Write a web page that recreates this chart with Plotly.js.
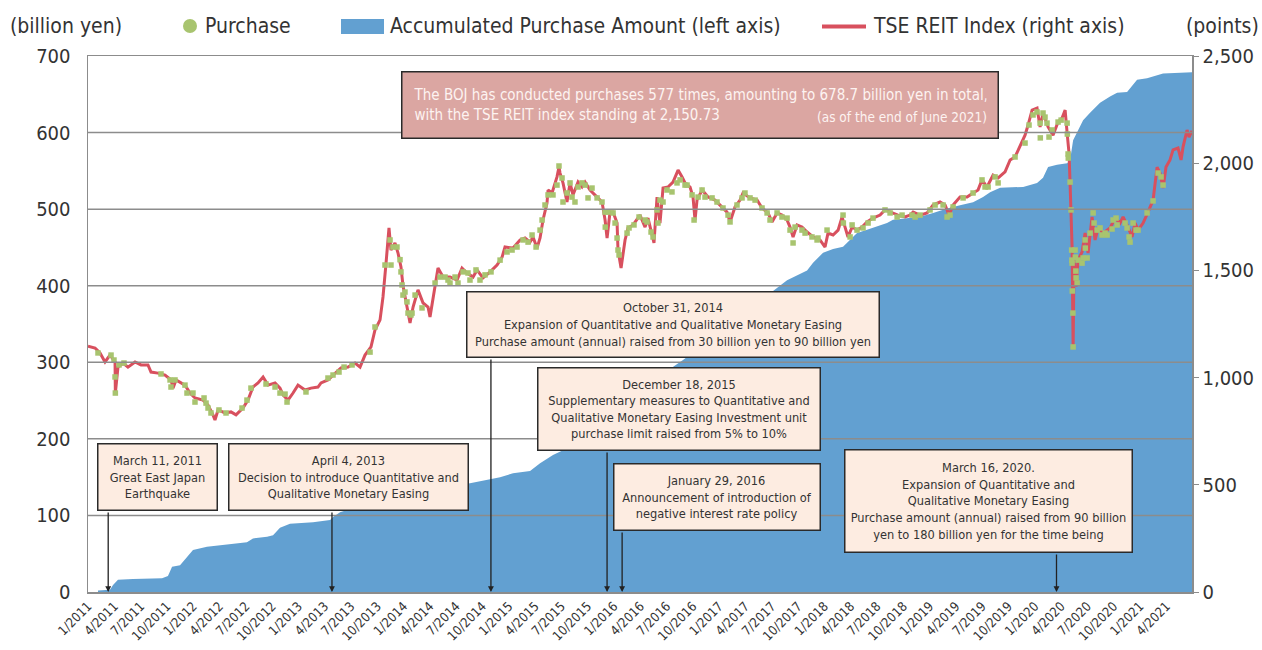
<!DOCTYPE html>
<html>
<head>
<meta charset="utf-8">
<script src="https://cdn.plot.ly/plotly-3.0.1.min.js"></script>
<style>html,body{margin:0;padding:0;background:#fff;}#chart{width:1262px;height:650px;}</style>
</head>
<body>
<div id="chart"></div>
<script>
// ---------- DATA (time as decimal year) ----------
// TSE REIT Index (points, right axis)
const reitT = [
 2011.000,2011.067,2011.114,2011.162,2011.209,2011.257,2011.260,2011.285,2011.333,2011.380,2011.447,2011.504,2011.570,2011.599,2011.665,2011.732,2011.789,2011.808,2011.837,2011.922,2011.970,
 2012.017,2012.093,2012.141,2012.188,2012.207,2012.236,2012.302,2012.359,2012.407,2012.473,2012.521,2012.568,2012.616,2012.664,2012.711,2012.778,2012.825,2012.854,2012.901,2012.949,2012.996,
 2013.063,2013.120,2013.186,2013.215,2013.281,2013.348,2013.405,2013.472,2013.538,2013.586,2013.633,2013.690,2013.728,2013.776,2013.804,2013.833,2013.861,2013.880,2013.918,2013.947,2013.975,2013.994,
 2014.023,2014.061,2014.090,2014.137,2014.185,2014.232,2014.251,2014.299,2014.327,2014.375,2014.441,2014.508,2014.555,2014.603,2014.660,2014.698,2014.755,2014.822,2014.888,2014.936,2014.964,
 2015.040,2015.107,2015.154,2015.202,2015.230,2015.268,2015.297,2015.325,2015.363,2015.373,2015.411,2015.458,2015.477,2015.487,2015.515,2015.553,2015.582,2015.610,2015.658,2015.696,2015.725,2015.772,2015.839,2015.886,2015.915,2015.934,2015.962,2015.991,
 2016.029,2016.038,2016.067,2016.105,2016.133,2016.181,2016.247,2016.295,2016.323,2016.361,2016.380,2016.409,2016.437,2016.466,2016.513,2016.561,2016.609,2016.647,2016.675,2016.723,2016.751,2016.770,2016.789,2016.837,2016.894,2016.960,
 2017.027,2017.074,2017.103,2017.150,2017.198,2017.226,2017.293,2017.360,2017.407,2017.464,2017.502,2017.550,2017.597,2017.645,2017.673,2017.702,2017.740,2017.787,2017.835,2017.892,2017.958,
 2018.006,2018.034,2018.082,2018.130,2018.168,2018.196,2018.224,2018.263,2018.310,2018.358,2018.405,2018.462,2018.529,2018.576,2018.643,2018.700,2018.767,2018.814,2018.843,2018.909,2018.976,
 2019.033,2019.099,2019.147,2019.185,2019.223,2019.289,2019.356,2019.413,2019.460,2019.498,2019.546,2019.603,2019.651,2019.717,2019.765,2019.812,2019.860,2019.907,2019.936,2019.974,
 2020.021,2020.050,2020.078,2020.126,2020.173,2020.221,2020.259,2020.288,2020.307,2020.325,2020.335,2020.344,2020.354,2020.364,2020.373,2020.392,2020.411,2020.449,2020.478,2020.506,2020.544,2020.573,2020.601,2020.649,2020.715,2020.763,2020.810,2020.839,2020.886,2020.924,2020.953,2020.981,
 2021.029,2021.076,2021.124,2021.162,2021.190,2021.219,2021.247,2021.285,2021.314,2021.361,2021.390,2021.409,2021.447,2021.466,2021.494
];
const reitV = [
 1147,1138,1115,1073,1105,1073,928,1049,1068,1049,1073,1059,1059,1026,1021,1012,989,951,989,965,928,
 905,895,872,826,802,849,835,840,826,858,895,956,975,1003,965,975,951,919,895,928,965,
 942,951,956,975,989,1021,1045,1049,1068,1049,1105,1143,1222,1269,1376,1534,1698,1595,1628,1581,1516,1430,
 1348,1255,1329,1409,1348,1329,1283,1423,1511,1469,1469,1455,1511,1488,1469,1502,1465,1493,1525,1562,1609,
 1604,1642,1651,1632,1656,1604,1651,1735,1814,1875,1861,1936,1982,1954,1908,1819,1908,1852,1912,1889,1912,1875,1842,1819,1735,1651,1772,1772,
 1721,1595,1511,1642,1698,1712,1758,1702,1744,1674,1628,1842,1721,1884,1889,1912,1968,1936,1908,1889,1842,1735,1828,1875,1842,1828,
 1796,1772,1726,1796,1828,1861,1838,1828,1791,1768,1726,1768,1758,1735,1702,1656,1712,1702,1679,1656,1642,
 1609,1674,1665,1688,1749,1702,1656,1702,1688,1702,1726,1744,1758,1782,1768,1758,1749,1758,1772,1758,1768,
 1805,1819,1805,1758,1805,1842,1842,1861,1875,1922,1889,1945,1931,1960,2015,2029,2085,2131,2178,2248,
 2257,2169,2234,2169,2131,2192,2211,2248,2141,2047,1908,1782,1609,1143,1548,1423,1548,1586,1674,1581,1749,1642,1698,1674,1698,1744,1721,1749,1702,1656,1721,1688,
 1721,1772,1828,1982,1954,1884,1982,2015,2062,2071,2015,2076,2155,2122,2151
];

// Purchase days (index level on the day, right axis)
const buyT = [
 2011.095,2011.219,2011.247,2011.257,2011.260,2011.295,2011.342,2011.694,2011.780,2011.789,2011.827,2011.922,2011.941,2011.998,
 2012.017,2012.103,2012.122,2012.141,2012.169,2012.245,2012.312,2012.464,2012.511,2012.549,2012.692,2012.778,2012.825,2012.873,2012.892,
 2013.072,2013.281,2013.329,2013.386,2013.434,2013.510,2013.681,2013.728,2013.823,2013.871,2013.880,2013.899,2013.937,2013.966,2013.975,2013.985,2013.994,
 2014.013,2014.032,2014.042,2014.070,2014.080,2014.109,2014.175,2014.299,2014.346,2014.394,2014.422,2014.441,2014.489,2014.517,2014.565,2014.612,2014.631,2014.688,2014.726,2014.774,2014.831,2014.917,2014.983,
 2015.031,2015.078,2015.135,2015.183,2015.221,2015.259,2015.297,2015.316,2015.344,2015.373,2015.420,2015.458,2015.477,2015.506,2015.515,2015.553,2015.582,2015.601,2015.629,2015.658,2015.696,2015.725,2015.753,2015.791,2015.839,2015.886,2015.915,2015.917,2015.943,2015.991,
 2016.010,2016.029,2016.038,2016.048,2016.124,2016.143,2016.190,2016.238,2016.295,2016.314,2016.352,2016.371,2016.409,2016.418,2016.437,2016.466,2016.504,2016.551,2016.599,2016.628,2016.675,2016.694,2016.742,2016.761,2016.799,2016.837,2016.865,2016.932,2016.979,
 2017.036,2017.084,2017.103,2017.169,2017.217,2017.245,2017.293,2017.341,2017.407,2017.455,2017.483,2017.550,2017.597,2017.645,2017.673,2017.702,2017.721,2017.787,2017.816,2017.882,2017.930,2017.939,
 2018.025,2018.177,2018.180,2018.244,2018.263,2018.310,2018.367,2018.415,2018.462,2018.576,2018.624,2018.691,2018.738,2018.833,2018.862,2018.909,
 2019.004,2019.052,2019.128,2019.166,2019.194,2019.223,2019.318,2019.413,2019.498,2019.527,2019.556,2019.622,2019.651,2019.812,2019.907,2019.945,2019.983,
 2020.021,2020.050,2020.052,2020.078,2020.097,2020.116,2020.135,2020.164,2020.221,2020.250,2020.307,2020.309,2020.316,2020.318,2020.335,2020.344,2020.350,2020.352,2020.354,2020.356,2020.362,2020.364,2020.383,2020.385,2020.390,2020.392,2020.402,2020.411,2020.449,2020.459,2020.478,2020.480,2020.497,2020.525,2020.554,2020.563,2020.592,2020.620,2020.639,2020.668,2020.687,2020.734,2020.744,2020.772,2020.782,2020.858,2020.877,2020.896,2020.905,2020.934,2020.962,2020.981,
 2021.067,2021.124,2021.172,2021.200,2021.219
];
const buyV = [
 1115,1105,1082,1003,928,1059,1068,1017,989,956,989,965,928,928,
 886,905,881,858,835,849,835,858,895,951,970,956,928,923,886,
 933,998,1012,1026,1049,1059,1119,1236,1525,1642,1525,1609,1609,1550,1493,1432,1385,
 1399,1353,1301,1292,1301,1385,1325,1441,1469,1469,1455,1441,1469,1441,1493,1488,1455,1502,1455,1479,1493,1548,1586,
 1595,1609,1642,1632,1665,1609,1688,1735,1805,1852,1852,1898,1987,1931,1819,1861,1908,1842,1819,1889,1908,1898,1838,1884,1838,1819,1772,1702,1772,1768,
 1721,1651,1595,1572,1674,1698,1712,1749,1735,1726,1679,1656,1782,1721,1828,1819,1875,1866,1908,1922,1898,1898,1852,1735,1842,1875,1842,1838,1819,
 1791,1758,1726,1805,1838,1861,1838,1828,1791,1768,1735,1768,1749,1744,1688,1628,1702,1688,1674,1656,1642,1651,
 1688,1758,1721,1656,1712,1688,1698,1721,1744,1782,1768,1749,1758,1758,1749,1758,
 1782,1805,1805,1749,1758,1796,1838,1861,1922,1889,1889,1936,1908,2029,2094,2178,2225,
 2239,2187,2118,2234,2215,2187,2122,2155,2192,2201,2187,2136,2043,2024,1912,1782,1595,1548,1534,1404,1301,1143,1595,1562,1497,1465,1441,1548,1534,1558,1642,1604,1558,1674,1768,1721,1688,1698,1665,1674,1665,1693,1735,1744,1712,1721,1698,1656,1632,1721,1688,1688,
 1768,1824,1954,1936,1898
];

// Accumulated purchase amount (billion yen, left axis)
const accT = [
 2011.095,2011.209,2011.238,2011.285,2011.428,2011.704,2011.760,2011.799,2011.875,2011.941,2011.998,
 2012.131,2012.255,2012.416,2012.511,2012.568,2012.702,2012.759,2012.825,2012.920,
 2013.139,2013.301,2013.329,2013.396,2013.462,2013.519,2013.776,
 2014.090,2014.413,2014.631,2014.917,
 2015.040,2015.202,2015.297,2015.420,2015.515,2015.800,
 2016.200,2016.656,
 2017.103,2017.645,2017.835,2017.892,2017.987,
 2018.082,2018.177,2018.224,2018.310,2018.405,2018.500,2018.595,2018.652,2018.786,2018.909,
 2019.033,2019.166,2019.289,2019.413,2019.508,2019.575,2019.670,2019.889,
 2020.021,2020.078,2020.126,2020.211,2020.307,2020.335,2020.364,2020.402,2020.459,2020.525,2020.620,2020.715,2020.782,2020.877,2020.972,
 2021.067,2021.219,2021.494
];
const accV = [
 2,3,9,16,17,18,21,33,35,46,55,
 59,61,64,65,70,72,74,84,89,
 91,94,98,104,107,111,120,
 129,136,142,150,
 155,158,168,179,185,212,
 260,303,
 350,407,420,430,443,
 448,451,457,469,473,477,482,486,488,490,
 495,501,505,509,516,522,528,529,
 534,541,555,558,560,564,590,601,616,626,639,647,652,653,669,
 671,677,678.7
];

// Axis tick labels
const xTickLabels = ["1/2011","4/2011","7/2011","10/2011","1/2012","4/2012","7/2012","10/2012","1/2013","4/2013","7/2013","10/2013",
 "1/2014","4/2014","7/2014","10/2014","1/2015","4/2015","7/2015","10/2015","1/2016","4/2016","7/2016","10/2016",
 "1/2017","4/2017","7/2017","10/2017","1/2018","4/2018","7/2018","10/2018","1/2019","4/2019","7/2019","10/2019",
 "1/2020","4/2020","7/2020","10/2020","1/2021","4/2021"];
const leftTicks = [0,100,200,300,400,500,600,700];
const rightTicks = [0,500,1000,1500,2000,2500];

// Events (decimal year as placed in the picture) and their callout texts
const eventT = [2011.192, 2013.319, 2014.830, 2015.934, 2016.077, 2020.206];
const eventTexts = [
 "March 11, 2011<br>Great East Japan<br>Earthquake",
 "April 4, 2013<br>Decision to introduce Quantitative and<br>Qualitative Monetary Easing",
 "October 31, 2014<br>Expansion of Quantitative and Qualitative Monetary Easing<br>Purchase amount (annual) raised from 30 billion yen to 90 billion yen",
 "December 18, 2015<br>Supplementary measures to Quantitative and<br>Qualitative Monetary Easing Investment unit<br>purchase limit raised from 5% to 10%",
 "January 29, 2016<br>Announcement of introduction of<br>negative interest rate policy",
 "March 16, 2020.<br>Expansion of Quantitative and<br>Qualitative Monetary Easing<br>Purchase amount (annual) raised from 90 billion<br>yen to 180 billion yen for the time being"
];
const summaryText = "The BOJ has conducted purchases 577 times, amounting to 678.7 billion yen in total,<br>with the TSE REIT index standing at 2,150.73";
const summaryNote = "(as of the end of June 2021)";

if (reitT.length !== reitV.length || buyT.length !== buyV.length || accT.length !== accV.length) {
  throw new Error("length mismatch " + [reitT.length, reitV.length, buyT.length, buyV.length, accT.length, accV.length]);
}

// ---------- LAYOUT HELPERS ----------
const W = 1262, H = 650;
const M = {l: 88, r: 70, t: 56, b: 58};
const PW = W - M.l - M.r, PH = H - M.t - M.b;
const px = x => (x - M.l) / PW;        // pixel x -> paper
const py = y => (H - M.b - y) / PH;    // pixel y -> paper
const FONT = "'Liberation Sans Narrow','DejaVu Sans Condensed','Arial Narrow',sans-serif";
const TXT = '#333333';
const GRID = '#8c8c8c';
const BLUE = '#62a0d1';
const RED = '#d8505e';
const GREEN = '#a8c46f';
const XMIN = 2011.0, XMAX = 2021.494;

const xTickVals = xTickLabels.map(s => { const [m, y] = s.split('/').map(Number); return y + (m - 1) / 12; });

const traces = [
  {x: accT, y: accV, type: 'scatter', mode: 'lines', line: {shape: 'linear', width: 0, color: BLUE},
   fill: 'tozeroy', fillcolor: BLUE, yaxis: 'y', name: 'Accumulated Purchase Amount (left axis)', showlegend: false, hoverinfo: 'skip'},
  {x: reitT, y: reitV, type: 'scatter', mode: 'lines', line: {width: 3, color: RED},
   yaxis: 'y2', name: 'TSE REIT Index (right axis)', showlegend: false, hoverinfo: 'skip'},
  {x: buyT, y: buyV, type: 'scatter', mode: 'markers', marker: {symbol: 'square', size: 5.5, color: GREEN},
   yaxis: 'y2', name: 'Purchase', showlegend: false, hoverinfo: 'skip'}
];

// gridlines drawn above the blue area
const shapes = leftTicks.filter(v => v > 0 && v < 700).map(v => ({
  type: 'line', xref: 'paper', yref: 'y', x0: 0, x1: 1, y0: v, y1: v, layer: 'above',
  line: {color: GRID, width: 1.5}
}));
// manual legend symbols
shapes.push({type: 'circle', xref: 'paper', yref: 'paper', x0: px(183), x1: px(197), y0: py(33), y1: py(19),
  fillcolor: GREEN, line: {width: 0}});
shapes.push({type: 'rect', xref: 'paper', yref: 'paper', x0: px(341), x1: px(384), y0: py(34), y1: py(19),
  fillcolor: BLUE, line: {width: 0}});
shapes.push({type: 'line', xref: 'paper', yref: 'paper', x0: px(822), x1: px(866), y0: py(26.5), y1: py(26.5),
  line: {color: RED, width: 4}});

const annotations = [];
const legendText = (x, text, anchor) => ({xref: 'paper', yref: 'paper', x: px(x), y: py(26), xanchor: anchor || 'left', yanchor: 'middle',
  text: text, showarrow: false, font: {family: FONT, size: 21, color: TXT}});
annotations.push(legendText(8, '(billion yen)'));
annotations.push(legendText(203, 'Purchase'));
annotations.push(legendText(388, 'Accumulated Purchase Amount (left axis)'));
annotations.push(legendText(871, 'TSE REIT Index (right axis)'));
annotations.push(legendText(1261, '(points)', 'right'));

// callout boxes (pixel geometry: left, right, top, bottom)
const boxes = [
  [97, 218, 443, 511],
  [228, 469, 443, 511],
  [466, 880, 291, 358],
  [537, 821, 367, 451],
  [613, 821, 463, 531],
  [844, 1133, 449, 553]
];
const BW = 1.5, BP = 3;
boxes.forEach((b, i) => {
  // arrow from box bottom down to the event date on the axis
  annotations.push({xref: 'x', yref: 'y', x: eventT[i], y: 0, axref: 'pixel', ayref: 'pixel', ax: 0, ay: -(H - M.b - b[3]),
    text: '', showarrow: true, arrowhead: 2, arrowsize: 0.9, arrowwidth: 1.3, arrowcolor: '#222', standoff: 0, startstandoff: 0});
});
boxes.forEach((b, i) => {
  annotations.push({xref: 'paper', yref: 'paper', x: px((b[0] + b[1]) / 2), y: py((b[2] + b[3]) / 2),
    xanchor: 'center', yanchor: 'middle', text: eventTexts[i], showarrow: false, align: 'center',
    width: b[1] - b[0] - 2 * (BW + BP), height: b[3] - b[2] - 2 * (BW + BP),
    bgcolor: '#fdece1', bordercolor: '#2a2a2a', borderwidth: BW, borderpad: BP,
    font: {family: FONT, size: 12.7, color: TXT}});
});
// summary box
annotations.push({xref: 'paper', yref: 'paper', x: px(700), y: py(105), xanchor: 'center', yanchor: 'middle',
  text: summaryText, showarrow: false, align: 'left', valign: 'middle',
  width: 598 - 2 * (BW + BP) - 16, height: 68 - 2 * (BW + BP) - 16,
  bgcolor: '#dba6a2', bordercolor: '#2a2a2a', borderwidth: BW, borderpad: BP + 8,
  font: {family: FONT, size: 15, color: '#fdf3f1'}});
annotations.push({xref: 'paper', yref: 'paper', x: px(989), y: py(117), xanchor: 'right', yanchor: 'middle',
  text: summaryNote, showarrow: false, font: {family: FONT, size: 13.5, color: '#fdf3f1'}});

const layout = {
  width: W, height: H, margin: M,
  paper_bgcolor: '#ffffff', plot_bgcolor: '#ffffff',
  showlegend: false,
  font: {family: FONT, color: TXT},
  xaxis: {type: 'linear', range: [XMIN, XMAX], tickmode: 'array', tickvals: xTickVals, ticktext: xTickLabels,
    tickangle: -45, tickfont: {family: FONT, size: 13, color: TXT}, showgrid: false, zeroline: false,
    showline: true, linecolor: GRID, linewidth: 1.5, mirror: true, ticks: ''},
  yaxis: {range: [0, 700], tickmode: 'array', tickvals: leftTicks, showgrid: false, zeroline: false,
    tickfont: {family: FONT, size: 20, color: TXT}, showline: true, linecolor: GRID, linewidth: 1.5, mirror: true,
    ticks: 'outside', ticklen: 12, tickcolor: 'rgba(0,0,0,0)'},
  yaxis2: {range: [0, 2500], overlaying: 'y', side: 'right', tickmode: 'array', tickvals: rightTicks, tickformat: ',d',
    showgrid: false, zeroline: false, tickfont: {family: FONT, size: 20, color: TXT},
    showline: true, linecolor: GRID, linewidth: 1.5, ticks: 'outside', ticklen: 5, tickcolor: GRID},
  shapes: shapes,
  annotations: annotations
};

Plotly.newPlot('chart', traces, layout, {staticPlot: true, displayModeBar: false});
</script>
</body>
</html>
